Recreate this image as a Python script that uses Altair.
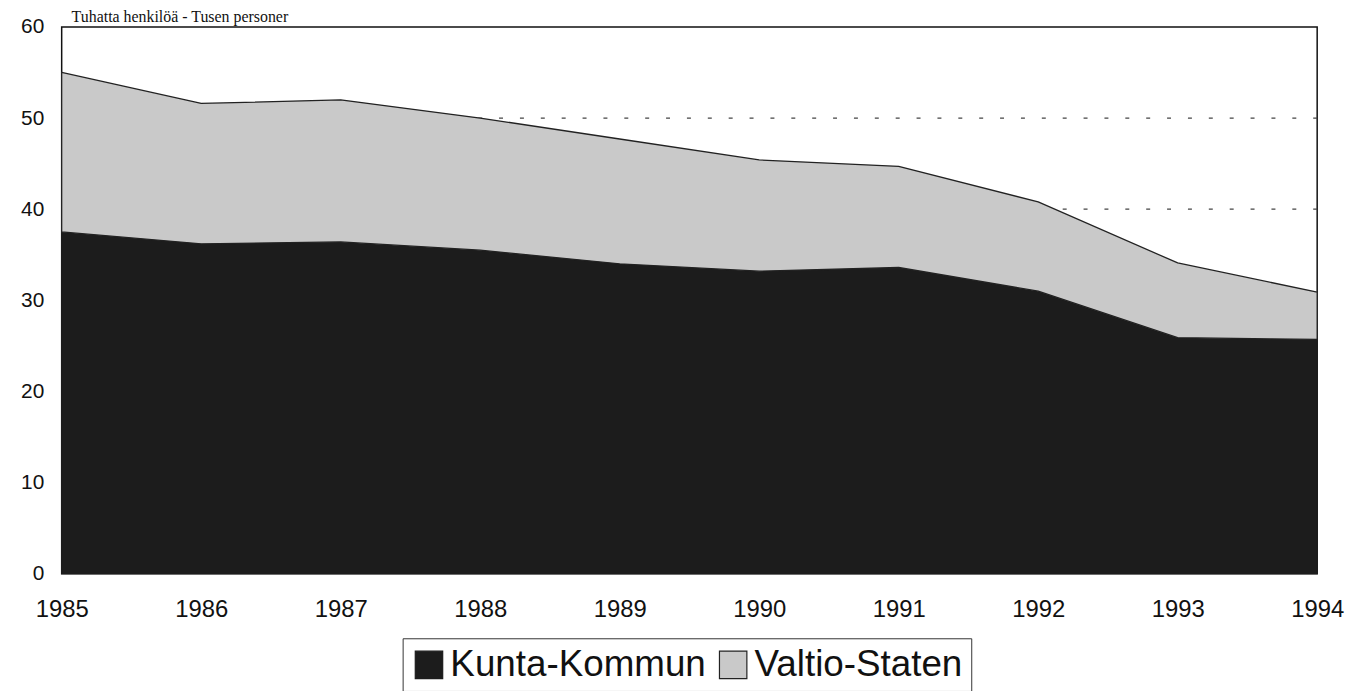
import altair as alt
import pandas as pd

years = [1985, 1986, 1987, 1988, 1989, 1990, 1991, 1992, 1993, 1994]
kunta = [37.5, 36.2, 36.4, 35.5, 34.0, 33.2, 33.6, 31.0, 25.9, 25.7]
valtio = [17.5, 15.4, 15.6, 14.5, 13.7, 12.2, 11.1, 9.8, 8.2, 5.2]
series = ["Kunta-Kommun", "Valtio-Staten"]
colors = ["#1c1c1c", "#c9c9c9"]
outline = ["#1c1c1c", "#222222"]
y_ticks = [0, 10, 20, 30, 40, 50, 60]
grid_vals = [10, 20, 30, 40, 50]
title_text = ["Tuhatta henkilöä - Tusen personer"]

rows = []
for i, yr in enumerate(years):
    rows.append({"year": yr, "series": series[0], "value": kunta[i], "ord": 0})
    rows.append({"year": yr, "series": series[1], "value": valtio[i], "ord": 1})
df = pd.DataFrame(rows)

yscale = alt.Scale(domain=[0, 60], nice=False)
yaxis = alt.Axis(values=y_ticks, title=None, grid=False,
                 domain=False, ticks=False,
                 labelFontSize=21, labelPadding=18,
                 labelFont="Liberation Sans", labelColor="#111")

grid = alt.Chart(pd.DataFrame({"g": grid_vals})).mark_rule(
    strokeDash=[4, 17], color="#444", strokeWidth=1.3
).encode(y=alt.Y("g:Q", scale=yscale, axis=yaxis, title=None))

legend = alt.Legend(title=None, orient="none",
                    legendX=343, legendY=615,
                    direction="horizontal",
                    symbolType="square", symbolSize=760,
                    symbolStrokeWidth=1.2,
                    symbolOpacity=1,
                    labelFontSize=37,
                    labelFont="Liberation Sans",
                    labelColor="#111",
                    labelOffset=3,
                    columnPadding=8,
                    strokeColor="#333",
                    padding=8,
                    labelLimit=400)

areas = alt.Chart(df).mark_area(
    strokeWidth=1.3, opacity=1, fillOpacity=1, strokeJoin="round"
).encode(
    x=alt.X("year:Q",
            scale=alt.Scale(domain=[years[0], years[-1]], nice=False, zero=False),
            axis=alt.Axis(values=years, format="d", title=None, grid=False,
                          domain=False, ticks=False, labelFlush=False,
                          labelFontSize=24, labelPadding=24,
                          labelFont="Liberation Sans", labelColor="#111")),
    y=alt.Y("value:Q", stack="zero", scale=yscale, axis=yaxis, title=None),
    fill=alt.Fill("series:N",
                  scale=alt.Scale(domain=series, range=colors),
                  legend=legend),
    stroke=alt.Stroke("series:N",
                      scale=alt.Scale(domain=series, range=outline),
                      legend=legend),
    order=alt.Order("ord:Q"),
)

title = alt.Chart(pd.DataFrame({"t": title_text})).mark_text(
    align="left", baseline="alphabetic", font="Liberation Serif",
    fontSize=16, color="#111"
).encode(x=alt.value(10), y=alt.value(-5), text="t:N")

chart = alt.layer(grid, areas, title).properties(
    width=1263, height=550,
    background="white",
    autosize=alt.AutoSizeParams(type="none"),
    padding={"left": 54, "top": 17, "right": 29, "bottom": 116},
).configure_view(stroke="#111", strokeWidth=1.5)

chart.save("out.html", embed_options={"renderer": "svg", "actions": False})
